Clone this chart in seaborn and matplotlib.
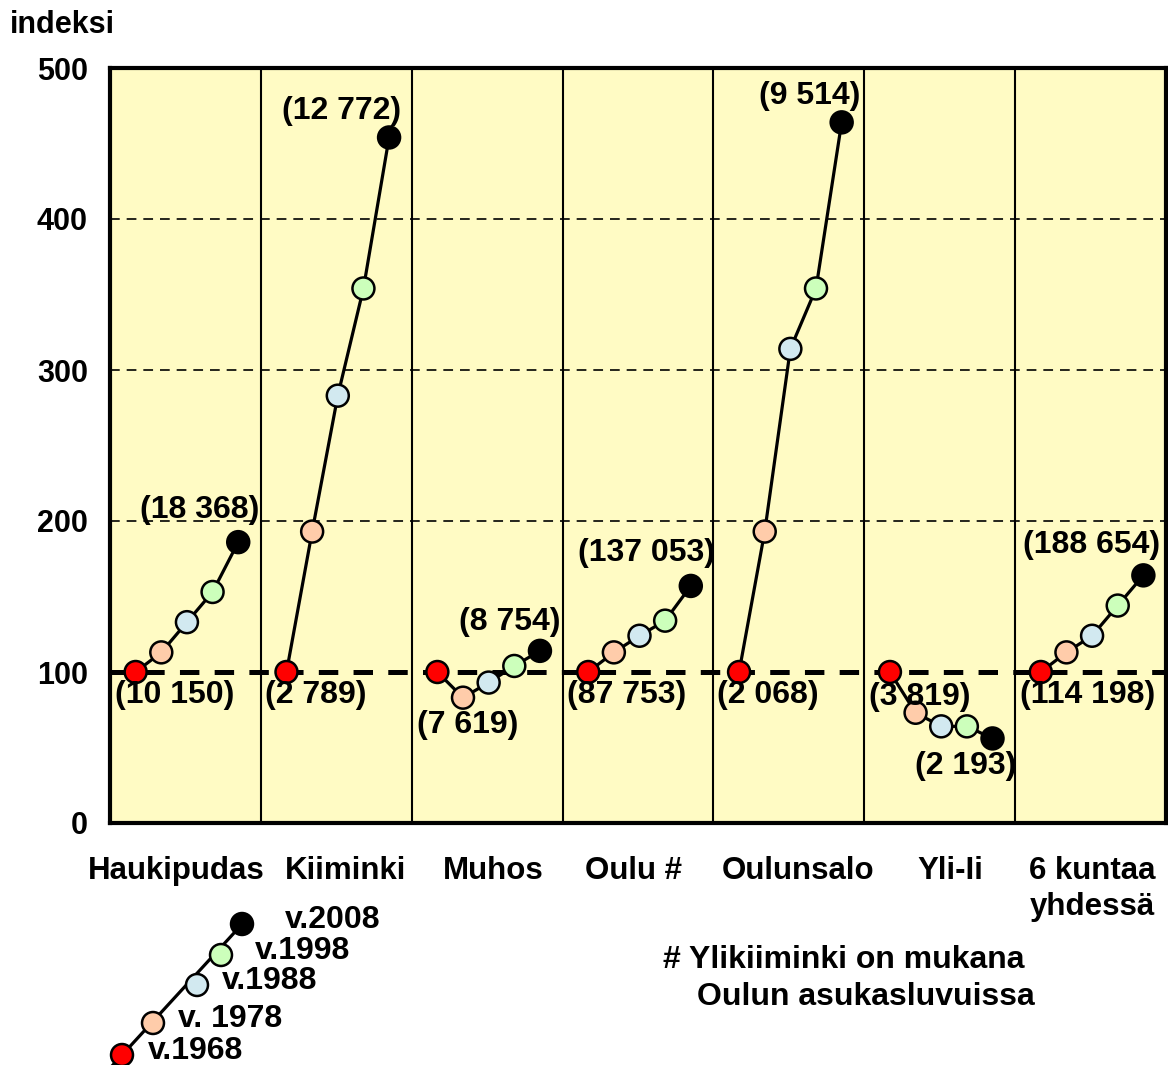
import matplotlib
matplotlib.use('Agg')
import matplotlib.pyplot as plt
import pandas as pd
import seaborn as sns

# indeksi 1968 = 100
kunnat = ['Haukipudas', 'Kiiminki', 'Muhos', 'Oulu #', 'Oulunsalo', 'Yli-Ii', '6 kuntaa\nyhdessä']
vuodet = [1968, 1978, 1988, 1998, 2008]
haukipudas = [100, 113, 133, 153, 186]
kiiminki = [100, 193, 283, 354, 454]
muhos = [100, 83, 93, 104, 114]
oulu = [100, 113, 124, 134, 157]
oulunsalo = [100, 193, 314, 354, 464]
yli_ii = [100, 73, 64, 64, 56]
kuusi_kuntaa = [100, 113, 124, 144, 164]
sarjat = [haukipudas, kiiminki, muhos, oulu, oulunsalo, yli_ii, kuusi_kuntaa]

# asukasluvut 1968 ja 2008
asukkaat_1968 = ['(10 150)', '(2 789)', '(7 619)', '(87 753)', '(2 068)', '(3 819)', '(114 198)']
asukkaat_2008 = ['(18 368)', '(12 772)', '(8 754)', '(137 053)', '(9 514)', '(2 193)', '(188 654)']
selitteet = ['v.1968', 'v. 1978', 'v.1988', 'v.1998', 'v.2008']
y_ticks = [0, 100, 200, 300, 400, 500]

varit = ['#ff0000', '#ffccaa', '#d2e9f0', '#ccffbb', '#000000']

sns.set_theme(style='white')
plt.rcParams['font.family'] = ['Liberation Sans', 'DejaVu Sans']
plt.rcParams['font.weight'] = 'bold'
plt.rcParams['text.color'] = 'black'
plt.rcParams['xtick.color'] = 'black'
plt.rcParams['ytick.color'] = 'black'
plt.rcParams['lines.scale_dashes'] = False

rows = []
for i, (k, vals) in enumerate(zip(kunnat, sarjat)):
    for j, (v, y) in enumerate(zip(vuodet, vals)):
        rows.append(dict(kunta=k, vuosi=v, indeksi=y, x=i + 0.17 + 0.17 * j))
df = pd.DataFrame(rows)

W, H = 1168, 1065
fig = plt.figure(figsize=(W / 100, H / 100), dpi=100)
ax = fig.add_axes([110 / W, 1 - 823 / H, 1056 / W, 755 / H])
ax.set_facecolor('#fffbc4')

# gridlines
for g in [200, 300, 400]:
    ax.axhline(g, color='black', lw=1.2, dashes=(7, 5), zorder=1)
ax.axhline(100, color='black', lw=3.6, dashes=(14, 11), zorder=1)
for i in range(1, len(kunnat)):
    ax.axvline(i, color='black', lw=1.5, zorder=1)

sns.lineplot(data=df, x='x', y='indeksi', units='kunta', estimator=None,
             color='black', lw=2.3, ax=ax, legend=False, zorder=2)
sns.scatterplot(data=df, x='x', y='indeksi', hue='vuosi',
                palette=dict(zip(vuodet, varit)), s=250, edgecolor='black',
                linewidth=1.8, ax=ax, legend=False, zorder=3)

# population labels (offsets in pixels)
off_alku = [(39, -23), (29, -23), (30, -53), (38, -23), (29, -23), (30, -25), (47, -23)]
off_loppu = [(-39, 32), (-48, 26), (-30, 29), (-44, 33), (-32, 26), (-27, -28), (-52, 30)]
for i, vals in enumerate(sarjat):
    x0 = i + 0.17
    x1 = i + 0.17 + 0.17 * 4
    ax.annotate(asukkaat_1968[i], (x0, vals[0]), xytext=off_alku[i],
                textcoords='offset pixels', ha='center', va='center',
                fontsize=23, fontweight='bold', zorder=4)
    ax.annotate(asukkaat_2008[i], (x1, vals[-1]), xytext=off_loppu[i],
                textcoords='offset pixels', ha='center', va='center',
                fontsize=23, fontweight='bold', zorder=4)

# category label positions inside each panel
tick_pos = [0.44, 0.56, 0.54, 0.47, 0.56, 0.57, 0.51]

ax.set_xlim(0, len(kunnat))
ax.set_ylim(0, 500)
ax.set_yticks(y_ticks)
ax.set_yticklabels([str(t) for t in y_ticks], fontsize=22, fontweight='bold')
ax.set_xticks([i + p for i, p in enumerate(tick_pos)])
ax.set_xticklabels(kunnat, fontsize=22.5, fontweight='bold', linespacing=1.25, va='top')
ax.tick_params(axis='y', length=0, pad=16)
ax.tick_params(axis='x', length=0, pad=24)
ax.set_xlabel('')
ax.set_ylabel('')
for s in ax.spines.values():
    s.set_color('black')
    s.set_linewidth(3)

fig.text(10 / W, 1 - 25 / H, 'indeksi', fontsize=22, fontweight='bold',
         ha='left', va='center')

# legend drawn by hand in figure pixels
lax = fig.add_axes([0, 0, 1, 1], facecolor='none')
lax.set_xlim(0, W)
lax.set_ylim(H, 0)
lax.axis('off')
lx = [122, 153, 197, 221, 242]
ly = [1055, 1023, 985, 955, 924]
lax.plot([112, 245], [1066, 921], color='black', lw=2.3, zorder=2)
lax.scatter(lx, ly, s=250, c=varit, edgecolors='black', linewidths=1.8, zorder=3)
tx = [26, 25, 25, 34, 43]
for x, y, d, t in zip(lx, ly, tx, selitteet):
    lax.text(x + d, y - 4, t, fontsize=23, fontweight='bold', ha='left', va='center')

lax.text(663, 960, '# Ylikiiminki on mukana', fontsize=23, fontweight='bold',
         ha='left', va='center')
lax.text(697, 997, 'Oulun asukasluvuissa', fontsize=23, fontweight='bold',
         ha='left', va='center')

fig.savefig('out.png', dpi=100)
